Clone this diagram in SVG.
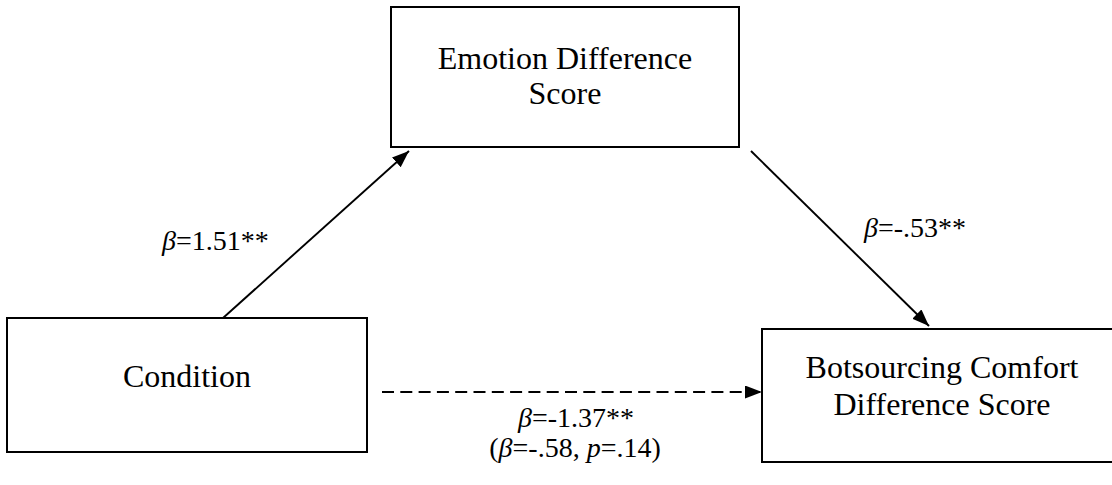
<svg xmlns="http://www.w3.org/2000/svg" width="1112" height="485" viewBox="0 0 1112 485">
<defs>
<marker id="ah" markerUnits="userSpaceOnUse" markerWidth="18" markerHeight="14" refX="17" refY="6.5" orient="auto">
<path d="M0,0 L17,6.5 L0,13 z" fill="#000"/>
</marker>
<style>
.box{fill:#fff;stroke:#000;stroke-width:2}
.t{font-family:"Liberation Serif","Times New Roman",serif;font-size:32px;fill:#000;text-anchor:middle}
.l{font-family:"Liberation Serif","Times New Roman",serif;font-size:28px;fill:#000}
.c{stroke:#000;stroke-width:1.9;fill:none}
</style>
</defs>
<rect width="1112" height="485" fill="#fff"/>
<g id="connectors">
<line class="c" x1="223" y1="318" x2="409" y2="151" marker-end="url(#ah)"/>
<line class="c" x1="751" y1="151" x2="929" y2="326" marker-end="url(#ah)"/>
<line class="c" x1="382" y1="392" x2="762" y2="392" stroke-width="2" stroke-dasharray="12,6.3" marker-end="url(#ah)"/>
</g>
<g id="node-emotion">
<rect class="box" x="391" y="7" width="348" height="140"/>
<text class="t" x="565" y="69">Emotion Difference</text>
<text class="t" x="565" y="104">Score</text>
</g>
<g id="node-condition">
<rect class="box" x="7" y="318" width="360" height="134"/>
<text class="t" x="187" y="387">Condition</text>
</g>
<g id="node-botsourcing">
<rect class="box" x="762" y="329" width="362" height="133"/>
<text class="t" x="942" y="378">Botsourcing Comfort</text>
<text class="t" x="942" y="415">Difference Score</text>
</g>
<g id="labels">
<text class="l" x="162" y="250"><tspan font-style="italic">β</tspan>=1.51**</text>
<text class="l" x="864" y="237"><tspan font-style="italic">β</tspan>=-.53**</text>
<text class="l" x="576" y="427" text-anchor="middle"><tspan font-style="italic">β</tspan>=-1.37**</text>
<text class="l" x="575" y="457" text-anchor="middle">(<tspan font-style="italic">β</tspan>=-.58, <tspan font-style="italic">p</tspan>=.14)</text>
</g>
</svg>
